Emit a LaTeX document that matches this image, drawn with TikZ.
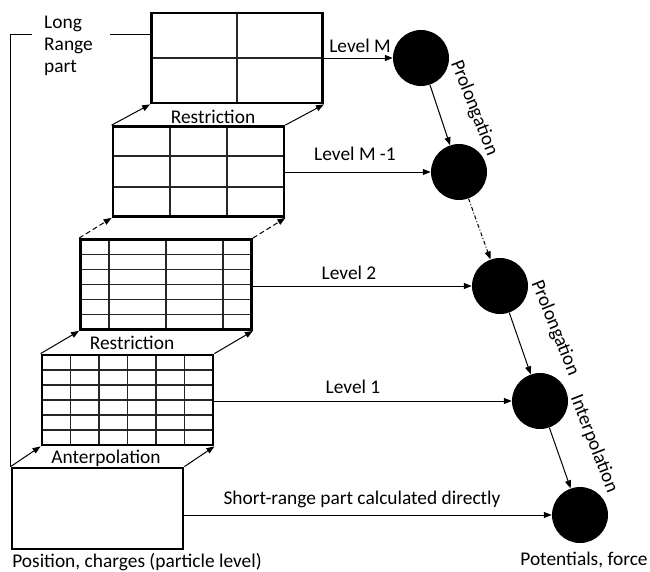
\documentclass[tikz,border=0pt]{standalone}
\usepackage{fontspec}
\setmainfont{Carlito}
\usetikzlibrary{arrows.meta,calc}
\newcommand\lblfont{\fontsize{19.4}{22}\selectfont}
\begin{document}
\begin{tikzpicture}[x=1pt,y=-1pt,
 every node/.style={font=\lblfont, inner sep=0pt},
 box/.style={draw, line width=2.8pt, rectangle, minimum width=171pt, minimum height=90pt, inner sep=0pt},
 gridln/.style={line width=1.2pt, black!85},
 ball/.style={circle, fill=black, minimum size=56pt, inner sep=0pt},
 arr/.style={line width=1pt, -{Triangle[length=8pt,width=6pt]}},
 dasharr/.style={arr, dash pattern=on 5pt off 3pt},
 dotarr/.style={arr, dash pattern=on 4pt off 2pt on 1pt off 2pt},
 thinln/.style={line width=1pt}]
\useasboundingbox (0,0) rectangle (650,571);
% grid lines
\foreach \i in {1,...,5} \draw[gridln] ({42+28.5*\i},355) -- ({42+28.5*\i},445);
\foreach \j in {1,...,5} \draw[gridln] (42,{355+15*\j}) -- (213,{355+15*\j});
\foreach \x in {109,166,223} \draw[gridln] (\x,239) -- (\x,330);
\foreach \j in {1,...,5} \draw[gridln] (80,{239+15.17*\j}) -- (252,{239+15.17*\j});
\foreach \x in {170,227} \draw[gridln] (\x,126) -- (\x,217);
\foreach \y in {156,187} \draw[gridln] (113,\y) -- (284,\y);
\draw[gridln] (237,13) -- (237,103);
\draw[gridln] (151,58) -- (323,58);
% boxes
\node[box] (b4) at (237,58) {};
\node[box] (b3) at (198.5,171.5) {};
\node[box] (b2) at (166,284.5) {};
\node[box] (b1) at (127.5,400) {};
\node[box, minimum height=81pt] (b0) at (97.5,508.5) {};
% long range line
\draw[thinln] (b0.north west) |- ($(b4.north west)!0.25!(b4.south west)$);
\node[fill=white, inner xsep=12pt, inner ysep=2pt, text width=54pt, align=left, anchor=west] (lrp) at (32,46) {Long\\Range\\part};
% corner arrows
\draw[arr] (b3.north west) -- (b4.south west);
\draw[arr] (b3.north east) -- (b4.south east);
\draw[dasharr] (b2.north west) -- (b3.south west);
\draw[dasharr] (b2.north east) -- (b3.south east);
\draw[arr] (b1.north west) -- (b2.south west);
\draw[arr] (b1.north east) -- (b2.south east);
\draw[arr] (b0.north west) -- (b1.south west);
\draw[arr] (b0.north east) -- (b1.south east);
\node (r1) at (213,117) {Restriction};
\node (r2) at (132,343) {Restriction};
\node (ap) at (106,458) {Anterpolation};
% balls
\node[ball] (c4) at (421,58) {};
\node[ball] (c3) at (459,172) {};
\node[ball] (c2) at (500,286) {};
\node[ball] (c1) at (540,401) {};
\node[ball] (c0) at (580,515) {};
% level arrows
\draw[arr] (b4.east |- c4) -- (c4);
\draw[arr] (b3.east |- c3) -- (c3);
\draw[arr] (b2.east |- c2) -- (c2);
\draw[arr] (b1.east |- c1) -- (c1);
\draw[arr] (b0.east |- c0) -- (c0);
\node (lm) at (360,46) {Level M};
\node (lm1) at (355,154) {Level M -1};
\node (l2) at (349,273) {Level 2};
\node (l1) at (353,387) {Level 1};
\node (sr) at (362,499) {Short-range part calculated directly};
% circle arrows
\draw[arr] (c4) -- (c3);
\draw[dotarr] (c3) -- (c2);
\draw[arr] (c2) -- (c1);
\draw[arr] (c1) -- (c0);
\node[rotate=-68.5] (p1) at (474,108) {Prolongation};
\node[rotate=-68] (p2) at (555,328) {Prolongation};
\node[rotate=-68.7] (ip) at (594,444) {Interpolation};
% bottom texts
\node (pos) at (137,562) {Position, charges (particle level)};
\node (pot) at (584,560) {Potentials, force};
\end{tikzpicture}
\end{document}
